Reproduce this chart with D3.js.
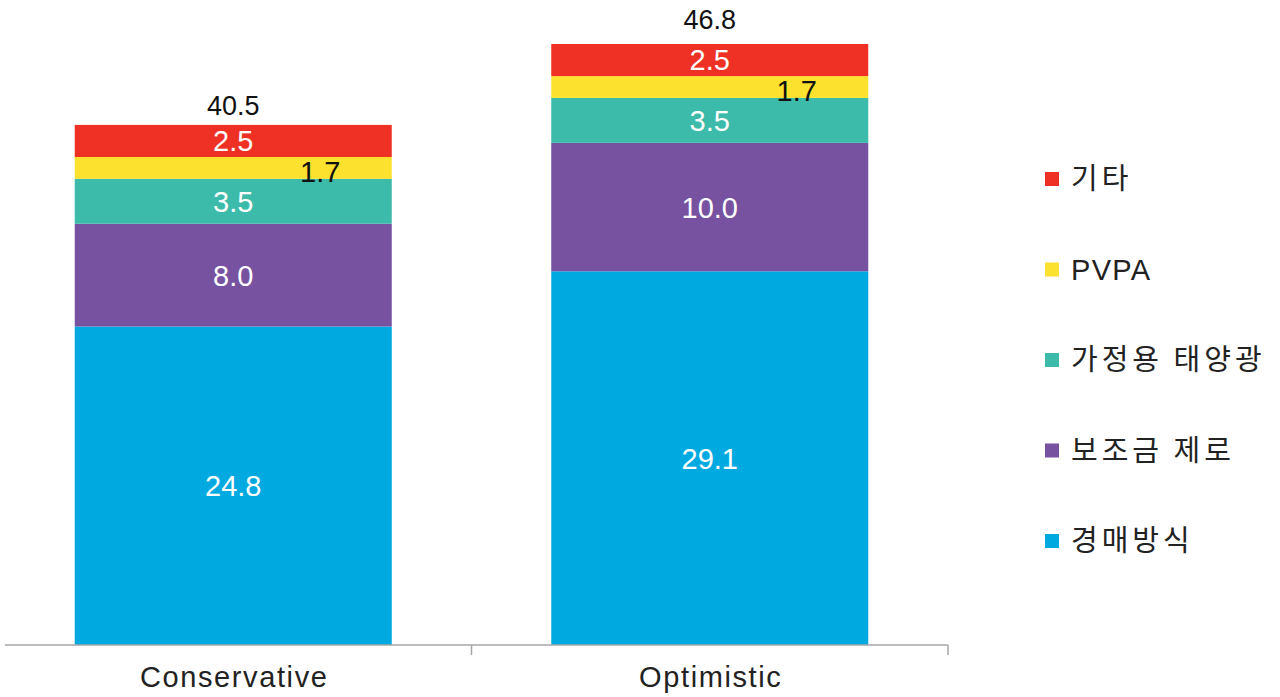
<!DOCTYPE html>
<html><head><meta charset="utf-8">
<script src="https://cdn.jsdelivr.net/npm/d3@7"></script>
<style>
html,body{margin:0;padding:0;background:#fff;}
svg{display:block;}
text{font-family:"Liberation Sans",Arial,sans-serif;}
.kr{font-family:"Noto Sans CJK KR","Liberation Sans",sans-serif;}
</style></head>
<body>
<svg id="c" width="1280" height="697"></svg>
<script>
const categories = ["Conservative", "Optimistic"];
const seriesNames = ["경매방식", "보조금 제로", "가정용 태양광", "PVPA", "기타"];
const auction = [24.8, 29.1];
const zeroSubsidy = [8.0, 10.0];
const residential = [3.5, 3.5];
const pvpa = [1.7, 1.7];
const others = [2.5, 2.5];
const totals = [40.5, 46.8];
const colors = ["#00A9E0", "#7652A1", "#3DBBAA", "#FCE22E", "#EE3124"];

const seriesValues = [auction, zeroSubsidy, residential, pvpa, others];
const rows = categories.map((c, i) => {
  const r = {cat: c};
  seriesNames.forEach((s, j) => r[s] = seriesValues[j][i]);
  return r;
});
const stack = d3.stack().keys(seriesNames)(rows);

const svg = d3.select("#c");
const baseY = 645;
const x = d3.scaleBand().domain(categories).range([-5, 948]).paddingInner(0).paddingOuter(0);
const y = d3.scaleLinear().domain([0, 46.8]).range([baseY, 44]);
const barW = 317;

const g = svg.append("g");
stack.forEach((layer, j) => {
  g.selectAll(null).data(layer).enter().append("rect")
    .attr("x", d => x(d.data.cat) + x.bandwidth() / 2 - barW / 2)
    .attr("width", barW)
    .attr("y", d => y(d[1]))
    .attr("height", d => y(d[0]) - y(d[1]))
    .attr("fill", colors[j]);
});

// data labels
stack.forEach((layer, j) => {
  const key = seriesNames[j];
  g.selectAll(null).data(layer).enter().append("text")
    .attr("x", d => x(d.data.cat) + x.bandwidth() / 2 + (key === "PVPA" ? 87 : 0))
    .attr("y", d => (y(d[0]) + y(d[1])) / 2 + (key === "PVPA" ? 4 : 0))
    .attr("dy", "0.36em")
    .attr("text-anchor", "middle")
    .attr("font-size", 29)
    .attr("fill", key === "PVPA" ? "#111" : "#fff")
    .text(d => d3.format(".1f")(d.data[key]));
});

// totals
g.selectAll(null).data(categories).enter().append("text")
  .attr("x", d => x(d) + x.bandwidth() / 2)
  .attr("y", (d, i) => y(totals[i]) - (i === 0 ? 10 : 15))
  .attr("text-anchor", "middle")
  .attr("font-size", 27)
  .attr("fill", "#111")
  .text((d, i) => d3.format(".1f")(totals[i]));

// axis
const ax = svg.append("g");
ax.append("line").attr("x1", 5).attr("x2", 948).attr("y1", baseY).attr("y2", baseY)
  .attr("stroke", "#A6A6A6").attr("stroke-width", 1.5);
categories.forEach(c => {
  const xe = x(c) + x.bandwidth();
  ax.append("line").attr("x1", xe).attr("x2", xe).attr("y1", baseY).attr("y2", baseY + 10)
    .attr("stroke", "#A6A6A6").attr("stroke-width", 1.5);
});
ax.selectAll(null).data(categories).enter().append("text")
  .attr("x", d => x(d) + x.bandwidth() / 2 + 1)
  .attr("y", 687)
  .attr("text-anchor", "middle")
  .attr("font-size", 29)
  .attr("letter-spacing", "1.6px")
  .attr("fill", "#222")
  .text(d => d);

// legend (top to bottom reversed)
const legendOrder = seriesNames.map((s, j) => ({name: s, color: colors[j]})).reverse();
const lg = svg.append("g");
const lgy = d3.scaleLinear().domain([0, 4]).range([179, 541]);
legendOrder.forEach((d, i) => {
  lg.append("rect").attr("x", 1045).attr("y", lgy(i) - 7).attr("width", 14).attr("height", 14).attr("fill", d.color);
  const isLatin = d.name === "PVPA";
  lg.append("text").attr("class", isLatin ? "" : "kr")
    .attr("x", 1071).attr("y", lgy(i)).attr("dy", "0.36em")
    .attr("font-size", 29)
    .attr("letter-spacing", isLatin ? "1.3px" : "4px")
    .attr("fill", "#222")
    .text(d.name);
});
</script>
</body></html>
